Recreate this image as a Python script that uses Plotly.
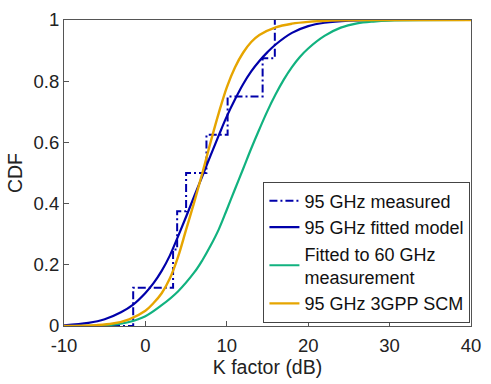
import plotly.graph_objects as go

# Measured empirical CDF (step positions in dB and CDF levels)
meas_x = [-10, -1.5, 3.4, 3.9, 5.0, 7.5, 10.1, 14.4, 15.9]
meas_y = [0, 0.125, 0.25, 0.375, 0.5, 0.625, 0.75, 0.875, 1.0]

# 95 GHz fitted model
fit_x = [-10, -7, -5, -3, -1.5, 0, 1, 2, 3, 4, 5, 6, 7, 8, 9, 10, 11, 12, 13, 14, 15, 16, 18, 20, 22, 25, 30, 40]
fit_y = [0.002, 0.01, 0.022, 0.045, 0.07, 0.108, 0.14, 0.18, 0.23, 0.292, 0.357, 0.424, 0.49, 0.557, 0.622, 0.685, 0.74, 0.79, 0.832, 0.866, 0.895, 0.92, 0.958, 0.98, 0.991, 0.998, 1.0, 1.0]

# Fitted to 60 GHz measurement
g60_x = [-10, -6, -4, -2, 0, 2, 4, 6, 7, 8, 9, 10, 11, 12, 13, 14, 15, 16, 17, 18, 19, 20, 22, 24, 26, 28, 30, 40]
g60_y = [0.0, 0.001, 0.004, 0.013, 0.032, 0.068, 0.113, 0.175, 0.215, 0.262, 0.315, 0.38, 0.447, 0.513, 0.58, 0.643, 0.703, 0.757, 0.805, 0.846, 0.88, 0.907, 0.948, 0.975, 0.989, 0.995, 0.998, 1.0]

# 95 GHz 3GPP SCM
scm_x = [-10, -6, -4, -2, 0, 1, 2, 3, 4, 5, 6, 7, 8, 9, 10, 11, 12, 13, 14, 16, 18, 20, 24, 30, 40]
scm_y = [0.0005, 0.003, 0.008, 0.022, 0.05, 0.075, 0.107, 0.155, 0.225, 0.315, 0.405, 0.5, 0.6, 0.695, 0.78, 0.845, 0.893, 0.928, 0.951, 0.976, 0.988, 0.994, 0.999, 1.0, 1.0]

blue = "rgb(0,0,170)"
green = "rgb(17,178,127)"
orange = "rgb(230,165,0)"

fig = go.Figure()
fig.add_trace(go.Scatter(x=meas_x, y=meas_y, mode="lines", line_shape="hv",
                         line=dict(color=blue, width=2, dash="8px,3px,2px,3px"),
                         name="95 GHz measured"))
fig.add_trace(go.Scatter(x=fit_x, y=fit_y, mode="lines", line_shape="spline",
                         line=dict(color=blue, width=2.2), name="95 GHz fitted model"))
fig.add_trace(go.Scatter(x=g60_x, y=g60_y, mode="lines", line_shape="spline",
                         line=dict(color=green, width=2.2), name="Fitted to 60 GHz<br>measurement"))
fig.add_trace(go.Scatter(x=scm_x, y=scm_y, mode="lines", line_shape="spline",
                         line=dict(color=orange, width=2.4), name="95 GHz 3GPP SCM"))

FONT = "Liberation Sans, Arial, Helvetica"
axis_common = dict(showline=True, mirror=True, linecolor="#555555", linewidth=1,
                   ticks="inside", ticklen=5, tickcolor="#555555", showgrid=False,
                   zeroline=False, tickfont=dict(family=FONT, size=18.5, color="#222222"))

fig.update_layout(
    width=491, height=384,
    margin=dict(l=63.5, r=11.5, t=9.5, b=58),
    paper_bgcolor="white", plot_bgcolor="white",
    font=dict(family=FONT, size=18.5, color="#222222"),
    xaxis=dict(range=[-10, 40], tickvals=[-10, 0, 10, 20, 30, 40],
               ticktext=["-10", "0", "10", "20", "30", "40"], ticklabelstandoff=3,
               title=dict(text="K factor (dB)", standoff=5, font=dict(size=19.5)), **axis_common),
    yaxis=dict(range=[0, 1], tickvals=[0, 0.2, 0.4, 0.6, 0.8, 1], ticktext=["0", "0.2", "0.4", "0.6", "0.8", "1"],
               title=dict(text="CDF", standoff=5, font=dict(size=19.5)), **axis_common),
    showlegend=True,
    legend=dict(x=0.49, y=0.472, xanchor="left", yanchor="top",
                bgcolor="white", bordercolor="#444444", borderwidth=1,
                font=dict(family=FONT, size=18, color="#111111"),
                itemwidth=30, tracegroupgap=0),
)

fig.write_html("out.html")
